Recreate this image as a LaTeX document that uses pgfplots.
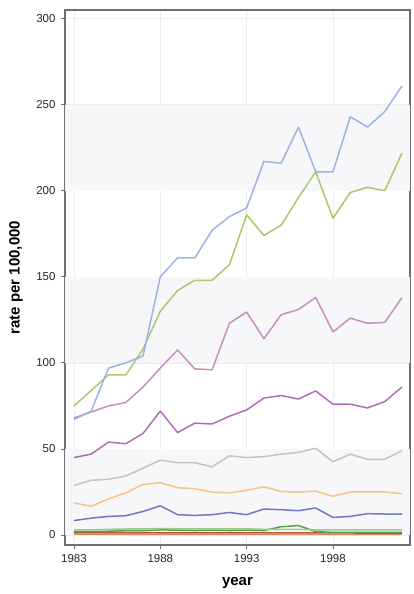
\documentclass[border=0pt]{standalone}
\usepackage{fontspec}
\setmainfont{Liberation Sans}
\usepackage{pgfplots}
\pgfplotsset{compat=1.18}

\definecolor{cBlue}{HTML}{9DB3E3}
\definecolor{cGreen}{HTML}{A9C96A}
\definecolor{cPink}{HTML}{C88FBC}
\definecolor{cPurple}{HTML}{B06FB5}
\definecolor{cGray}{HTML}{C4C4C4}
\definecolor{cOrange}{HTML}{F6C57F}
\definecolor{cNavy}{HTML}{7179C4}
\definecolor{cLtGreen}{HTML}{9CCC84}
\definecolor{cDkGreen}{HTML}{5C9C4C}
\definecolor{cBrown}{HTML}{A0603A}
\definecolor{cSalmon}{HTML}{EE7F5F}
\definecolor{band}{HTML}{F7F7F9}
\definecolor{frame}{HTML}{707070}

\begin{document}
\begin{tikzpicture}
\begin{axis}[
    name=ax,
    scale only axis,
    width=345pt, height=535pt,
    xmin=1982.48, xmax=2002.46,
    ymin=-5.8, ymax=305,
    xtick={1983,1988,1993,1998},
    ytick={0,50,100,150,200,250,300},
    xtick pos=bottom, ytick pos=left,
    xticklabel style={/pgf/number format/1000 sep={}},
    /pgf/number format/assume math mode=true,
    ticklabel style={font=\fontsize{11.5}{13}\selectfont, text=black!85},
    tick align=outside,
    major tick length=4pt,
    tick style={frame, line width=0.8pt},
    axis line style={frame, line width=1.3pt},
    grid=major,
    major grid style={gray!14, line width=0.6pt},
    xticklabel shift=2pt,
    yticklabel shift=2pt,
    xlabel={\textbf{year}},
    ylabel={\textbf{rate per 100,000}},
    label style={font=\fontsize{15}{17}\selectfont},
    xlabel style={at={(axis description cs:0.5,0)}, anchor=center, yshift=-38pt},
    ylabel style={at={(axis description cs:-0.142,0.5)}, anchor=center},
    every axis plot/.append style={line width=1.5pt, line join=round},
]
\fill[band] (axis cs:1982.48,0) rectangle (axis cs:2002.46,50);
\fill[band] (axis cs:1982.48,100) rectangle (axis cs:2002.46,150);
\fill[band] (axis cs:1982.48,200) rectangle (axis cs:2002.46,250);

\addplot[cSalmon] coordinates {
(1983,0.3)(1984,0.3)(1985,0.3)(1986,0.3)(1987,0.3)(1988,0.3)(1989,0.3)(1990,0.3)(1991,0.3)(1992,0.3)
(1993,0.3)(1994,0.3)(1995,0.3)(1996,0.3)(1997,0.3)(1998,0.3)(1999,0.3)(2000,0.3)(2001,0.3)(2002,0.3)};
\addplot[cBrown] coordinates {
(1983,1.2)(1984,1.2)(1985,1.2)(1986,1.3)(1987,1.3)(1988,1.3)(1989,1.2)(1990,1.2)(1991,1.2)(1992,1.2)
(1993,1.2)(1994,1.2)(1995,1.2)(1996,1.2)(1997,1.2)(1998,1.2)(1999,1.2)(2000,1.1)(2001,1.1)(2002,1.1)};
\addplot[cDkGreen] coordinates {
(1983,2)(1984,2)(1985,2.2)(1986,2.5)(1987,2.5)(1988,3)(1989,2.8)(1990,2.6)(1991,2.8)(1992,2.6)
(1993,2.8)(1994,2.6)(1995,4.8)(1996,5.5)(1997,2)(1998,1.5)(1999,1.5)(2000,1.5)(2001,1.5)(2002,1.5)};
\addplot[cLtGreen] coordinates {
(1983,3)(1984,3)(1985,3.3)(1986,3.5)(1987,3.5)(1988,3.8)(1989,3.6)(1990,3.5)(1991,3.6)(1992,3.5)
(1993,3.6)(1994,3.3)(1995,3.3)(1996,3.3)(1997,3)(1998,3)(1999,3)(2000,3)(2001,3)(2002,3)};
\addplot[cNavy] coordinates {
(1983,8.4)(1984,9.8)(1985,10.8)(1986,11.2)(1987,13.7)(1988,17)(1989,11.8)(1990,11.4)(1991,11.8)(1992,13.1)
(1993,11.8)(1994,15.1)(1995,14.7)(1996,14.1)(1997,15.7)(1998,10.2)(1999,10.8)(2000,12.4)(2001,12.2)(2002,12.2)};
\addplot[cOrange] coordinates {
(1983,18.6)(1984,16.7)(1985,21)(1986,24.5)(1987,29.4)(1988,30.4)(1989,27.5)(1990,26.9)(1991,24.9)(1992,24.5)
(1993,26)(1994,28)(1995,25.3)(1996,24.9)(1997,25.5)(1998,22.5)(1999,25)(2000,25)(2001,25)(2002,24)};
\addplot[cGray] coordinates {
(1983,28.8)(1984,31.8)(1985,32.4)(1986,34.3)(1987,38.8)(1988,43.5)(1989,42)(1990,42)(1991,39.6)(1992,46)
(1993,45)(1994,45.5)(1995,47)(1996,48)(1997,50.4)(1998,42.5)(1999,47)(2000,44)(2001,44)(2002,49)};
\addplot[cPurple] coordinates {
(1983,45)(1984,47)(1985,54)(1986,53)(1987,59)(1988,72)(1989,59.5)(1990,65)(1991,64.5)(1992,69)
(1993,72.7)(1994,79.6)(1995,81)(1996,79)(1997,83.7)(1998,76)(1999,76)(2000,73.8)(2001,77.5)(2002,86)};
\addplot[cPink] coordinates {
(1983,68)(1984,71.5)(1985,75)(1986,77)(1987,86)(1988,97)(1989,107.5)(1990,96.5)(1991,96)(1992,123)
(1993,129.5)(1994,114)(1995,128)(1996,131)(1997,138)(1998,118)(1999,126)(2000,123)(2001,123.5)(2002,138)};
\addplot[cGreen] coordinates {
(1983,75)(1984,84)(1985,93)(1986,93)(1987,108)(1988,130)(1989,142)(1990,148)(1991,148)(1992,157)
(1993,186)(1994,174)(1995,180)(1996,196)(1997,211)(1998,184)(1999,199)(2000,202)(2001,200)(2002,222)};
\addplot[cBlue] coordinates {
(1983,67)(1984,72)(1985,97)(1986,100)(1987,104)(1988,150)(1989,161)(1990,161)(1991,177)(1992,185)
(1993,190)(1994,217)(1995,216)(1996,237)(1997,211)(1998,211)(1999,243)(2000,237)(2001,246)(2002,261)};

\coordinate (bl) at (rel axis cs:0,0);
\coordinate (tr) at (rel axis cs:1,1);
\end{axis}
\pgfresetboundingbox
\useasboundingbox ([shift={(-65pt,-49pt)}]bl) rectangle ([shift={(3pt,10pt)}]tr);
\end{tikzpicture}
\end{document}
